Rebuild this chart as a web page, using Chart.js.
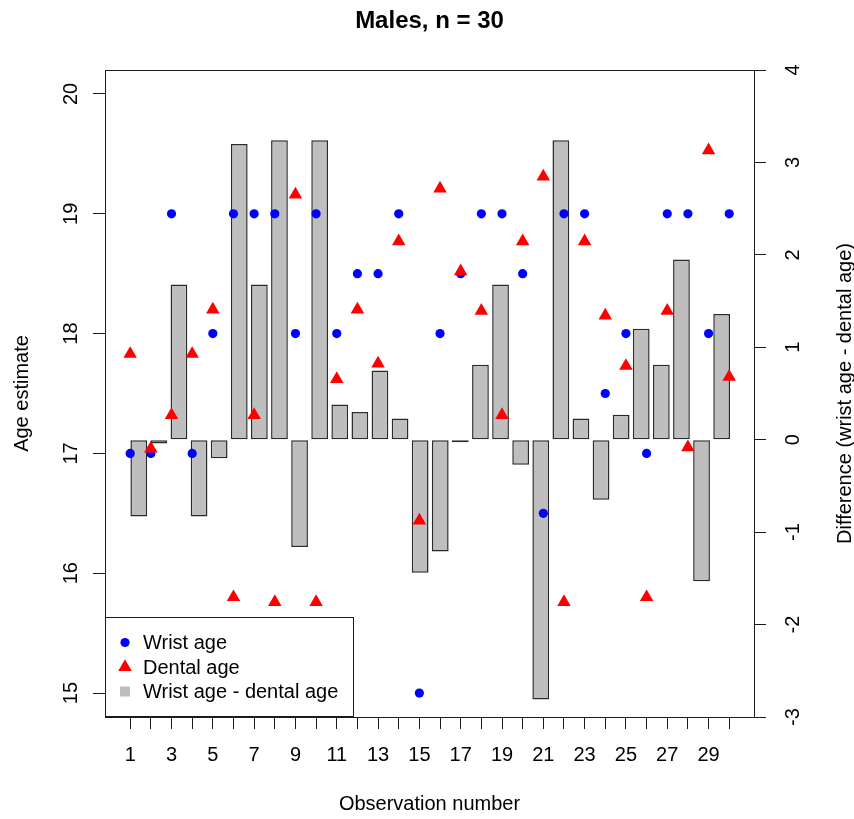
<!DOCTYPE html>
<html>
<head>
<meta charset="utf-8">
<script src="https://cdn.jsdelivr.net/npm/chart.js@4.4.0/dist/chart.umd.min.js"></script>
<style>
  html, body { margin: 0; padding: 0; background: #fff; }
  #wrap { width: 854px; height: 819px; }
</style>
</head>
<body>
<div id="wrap"><canvas id="chart" width="854" height="819"></canvas></div>
<script>
// values
const observations = [1, 2, 3, 4, 5, 6, 7, 8, 9, 10, 11, 12, 13, 14, 15,
  16, 17, 18, 19, 20, 21, 22, 23, 24, 25, 26, 27, 28, 29, 30];
const wristAge = [17, 17, 19, 17, 18, 19, 19, 19, 18, 19, 18, 18.5, 18.5, 19, 15,
  18, 18.5, 19, 19, 18.5, 16.5, 19, 19, 17.5, 18, 17, 19, 19, 18, 19];
const dentalAge = [17.83, 17.04, 17.32, 17.83, 18.2, 15.8, 17.32, 15.76, 19.16, 15.76,
  17.62, 18.2, 17.75, 18.77, 16.44, 19.21, 18.52, 18.19, 17.32, 18.77,
  19.31, 15.76, 18.77, 18.15, 17.73, 15.8, 18.19, 17.05, 19.53, 17.64];
const ageDiff = [-0.83, -0.04, 1.68, -0.83, -0.2, 3.2, 1.68, 3.24, -1.16, 3.24,
  0.38, 0.3, 0.75, 0.23, -1.44, -1.21, -0.02, 0.81, 1.68, -0.27,
  -2.81, 3.24, 0.23, -0.65, 0.27, 1.2, 0.81, 1.95, -1.53, 1.36];

const seriesNames = ['Wrist age', 'Dental age', 'Wrist age - dental age'];
const ageTicks = [15, 16, 17, 18, 19, 20];
const diffTicks = [-3, -2, -1, 0, 1, 2, 3, 4];
const obsLabels = [1, 3, 5, 7, 9, 11, 13, 15, 17, 19, 21, 23, 25, 27, 29];

const FONT = '"Liberation Sans", Arial, sans-serif';
const INK = '#1a1a1a';

function pts(ys) {
  return observations.map((o, i) => ({ x: o, y: ys[i] }));
}
function setTicks(values) {
  return (scale) => { scale.ticks = values.map((v) => ({ value: v })); };
}
const tickGrid = { display: true, offset: false, drawOnChartArea: false, drawTicks: true, tickLength: 12, color: INK, lineWidth: 1 };
const edge = { display: true, color: INK, width: 1 };

// titles, rotated tick labels and the boxed legend, R style
const textLayer = {
  id: 'textLayer',
  afterDraw(chart) {
    const { ctx, chartArea: a, scales } = chart;
    const midX = (a.left + a.right) / 2;
    const midY = (a.top + a.bottom) / 2;
    const vtext = (txt, x, y) => {
      ctx.save();
      ctx.translate(x, y);
      ctx.rotate(-Math.PI / 2);
      ctx.fillText(txt, 0, 0);
      ctx.restore();
    };
    ctx.save();
    ctx.fillStyle = '#000';
    ctx.textAlign = 'center';
    ctx.textBaseline = 'alphabetic';

    ctx.font = `bold 24px ${FONT}`;
    ctx.fillText('Males, n = 30', midX, 28);

    ctx.font = `20px ${FONT}`;
    obsLabels.forEach((v) => ctx.fillText(String(v), scales.x.getPixelForValue(v), 761));
    ctx.fillText('Observation number', midX, 810);
    ageTicks.forEach((v) => vtext(String(v), 77, scales.yL.getPixelForValue(v)));
    diffTicks.forEach((v) => vtext(String(v), 799, scales.yR.getPixelForValue(v)));
    vtext('Age estimate', 28, midY);
    vtext('Difference (wrist age - dental age)', 851, midY);

    // legend box in the bottom-left corner
    const box = { left: a.left, top: 617, right: 353, bottom: a.bottom };
    ctx.fillStyle = '#fff';
    ctx.fillRect(box.left, box.top, box.right - box.left, box.bottom - box.top);
    ctx.strokeStyle = INK;
    ctx.lineWidth = 1;
    ctx.strokeRect(box.left + 0.5, box.top + 0.5, box.right - box.left, box.bottom - box.top - 1);

    const rows = [642.5, 667, 691.5];
    const ds = chart.data.datasets;
    const symX = 125;
    ctx.fillStyle = ds[1].backgroundColor;
    Chart.helpers.drawPoint(ctx, { pointStyle: 'circle', radius: ds[1].pointRadius, rotation: 0, borderWidth: 0 }, symX, rows[0]);
    ctx.fillStyle = ds[2].backgroundColor;
    Chart.helpers.drawPoint(ctx, { pointStyle: 'triangle', radius: ds[2].pointRadius, rotation: 0, borderWidth: 0 }, symX, rows[1]);
    ctx.fillStyle = ds[0].backgroundColor;
    ctx.fillRect(symX - 5, rows[2] - 5, 10, 10);

    ctx.fillStyle = '#000';
    ctx.textAlign = 'left';
    ctx.font = `20px ${FONT}`;
    seriesNames.forEach((name, i) => ctx.fillText(name, 143, rows[i] + 6.5));
    ctx.restore();
  }
};

new Chart(document.getElementById('chart'), {
  type: 'bar',
  data: {
    datasets: [
      {
        type: 'bar',
        label: seriesNames[2],
        data: pts(ageDiff),
        xAxisID: 'xb',
        yAxisID: 'yR',
        backgroundColor: '#BEBEBE',
        borderColor: '#2a2a2a',
        borderWidth: 1.5,
        borderSkipped: false,
        minBarLength: 2.5,
        grouped: false,
        barPercentage: 1 / 1.2,
        categoryPercentage: 1,
        order: 3,
      },
      {
        type: 'scatter',
        label: seriesNames[0],
        data: pts(wristAge),
        xAxisID: 'x',
        yAxisID: 'yL',
        pointStyle: 'circle',
        pointRadius: 4.6,
        pointBorderWidth: 0,
        backgroundColor: '#0000FF',
        borderColor: '#0000FF',
        order: 2,
      },
      {
        type: 'scatter',
        label: seriesNames[1],
        data: pts(dentalAge),
        xAxisID: 'x',
        yAxisID: 'yL',
        pointStyle: 'triangle',
        pointRadius: 7.8,
        pointBorderWidth: 0,
        backgroundColor: '#FF0000',
        borderColor: '#FF0000',
        order: 1,
      },
    ],
  },
  options: {
    responsive: false,
    animation: false,
    devicePixelRatio: 1,
    layout: { padding: { top: 70, left: 0, right: 0, bottom: 0 } },
    plugins: { legend: { display: false }, tooltip: { enabled: false }, title: { display: false } },
    scales: {
      x: {
        type: 'linear', position: 'bottom', min: -0.22, max: 31.2, offset: false,
        afterBuildTicks: setTicks(observations),
        afterFit: (s) => { s.height = 102; },
        ticks: { display: false },
        grid: tickGrid, border: edge,
      },
      xb: {
        type: 'linear', position: 'top', min: -0.68, max: 31.61, offset: false,
        afterBuildTicks: setTicks(observations),
        afterFit: (s) => { s.height = 0; },
        ticks: { display: false },
        grid: { display: false }, border: edge,
      },
      yL: {
        type: 'linear', position: 'left', min: 14.8, max: 20.2,
        afterBuildTicks: setTicks(ageTicks),
        afterFit: (s) => { s.width = 105; },
        ticks: { display: false },
        grid: tickGrid, border: edge,
      },
      yR: {
        type: 'linear', position: 'right', min: -3, max: 4,
        afterBuildTicks: setTicks(diffTicks),
        afterFit: (s) => { s.width = 100; },
        ticks: { display: false },
        grid: tickGrid, border: edge,
      },
    },
  },
  plugins: [textLayer],
});
</script>
</body>
</html>
